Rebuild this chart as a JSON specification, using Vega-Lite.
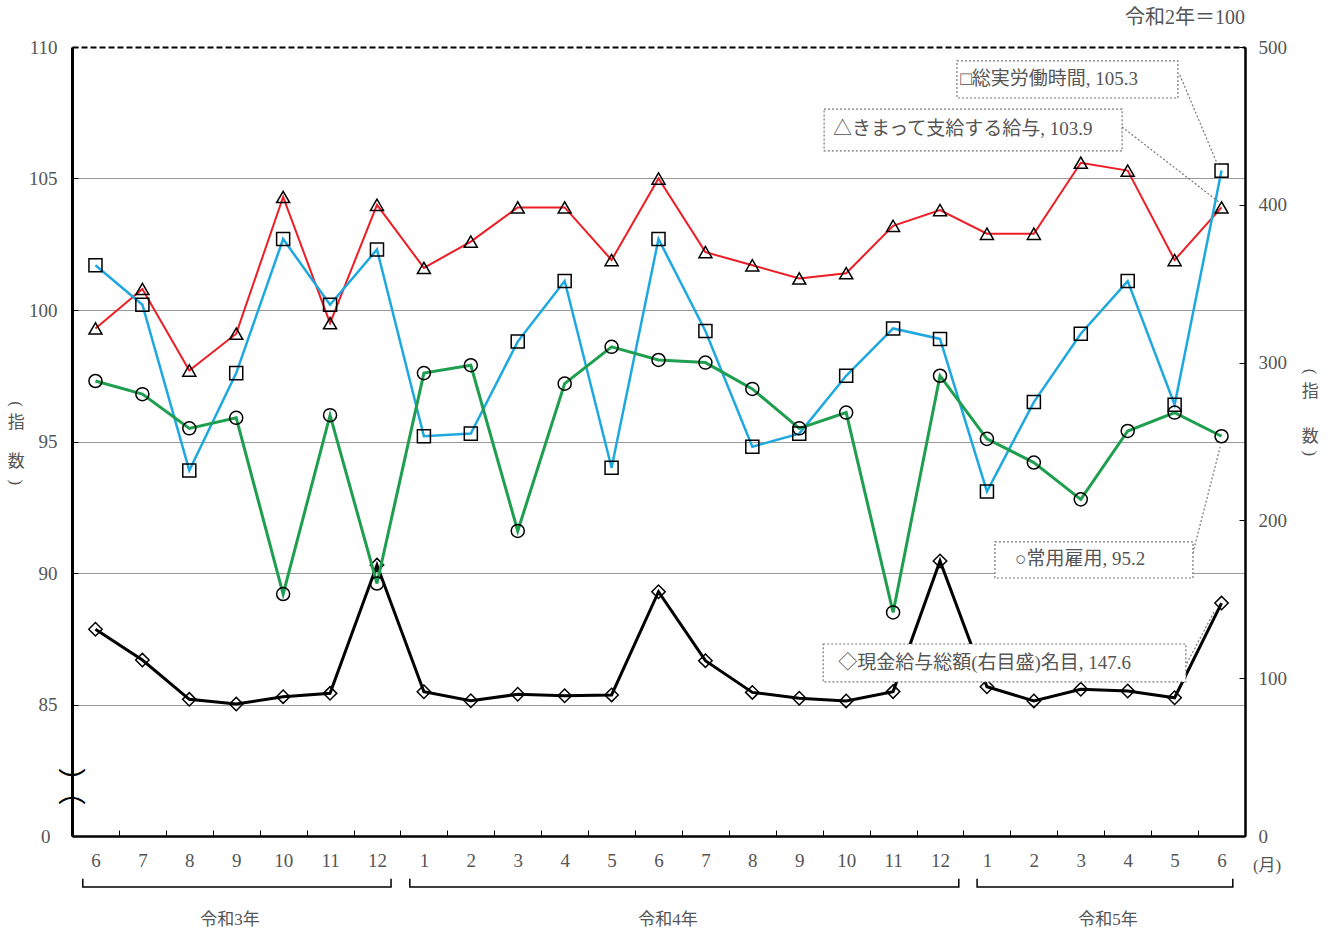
{
  "$schema": "https://vega.github.io/schema/vega-lite/v6.json",
  "width": 1173,
  "height": 789,
  "autosize": {"type": "none"},
  "padding": {"left": 72, "top": 47, "right": 87, "bottom": 96},
  "background": "white",
  "config": {
    "view": {"stroke": null},
    "axis": {"labelFont": "Liberation Serif", "labelFontSize": 19, "labelColor": "#555", "domainColor": "black", "tickColor": "black", "grid": false}
  },
  "datasets": {
    "left": [
      {"x":1,"s":"きまって支給する給与","y":99.3},{"x":2,"s":"きまって支給する給与","y":100.8},{"x":3,"s":"きまって支給する給与","y":97.7},{"x":4,"s":"きまって支給する給与","y":99.1},{"x":5,"s":"きまって支給する給与","y":104.3},{"x":6,"s":"きまって支給する給与","y":99.5},{"x":7,"s":"きまって支給する給与","y":104.0},{"x":8,"s":"きまって支給する給与","y":101.6},{"x":9,"s":"きまって支給する給与","y":102.6},{"x":10,"s":"きまって支給する給与","y":103.9},{"x":11,"s":"きまって支給する給与","y":103.9},{"x":12,"s":"きまって支給する給与","y":101.9},{"x":13,"s":"きまって支給する給与","y":105.0},{"x":14,"s":"きまって支給する給与","y":102.2},{"x":15,"s":"きまって支給する給与","y":101.7},{"x":16,"s":"きまって支給する給与","y":101.2},{"x":17,"s":"きまって支給する給与","y":101.4},{"x":18,"s":"きまって支給する給与","y":103.2},{"x":19,"s":"きまって支給する給与","y":103.8},{"x":20,"s":"きまって支給する給与","y":102.9},{"x":21,"s":"きまって支給する給与","y":102.9},{"x":22,"s":"きまって支給する給与","y":105.6},{"x":23,"s":"きまって支給する給与","y":105.3},{"x":24,"s":"きまって支給する給与","y":101.9},{"x":25,"s":"きまって支給する給与","y":103.9},
      {"x":1,"s":"総実労働時間","y":101.7},{"x":2,"s":"総実労働時間","y":100.2},{"x":3,"s":"総実労働時間","y":93.9},{"x":4,"s":"総実労働時間","y":97.6},{"x":5,"s":"総実労働時間","y":102.7},{"x":6,"s":"総実労働時間","y":100.2},{"x":7,"s":"総実労働時間","y":102.3},{"x":8,"s":"総実労働時間","y":95.2},{"x":9,"s":"総実労働時間","y":95.3},{"x":10,"s":"総実労働時間","y":98.8},{"x":11,"s":"総実労働時間","y":101.1},{"x":12,"s":"総実労働時間","y":94.0},{"x":13,"s":"総実労働時間","y":102.7},{"x":14,"s":"総実労働時間","y":99.2},{"x":15,"s":"総実労働時間","y":94.8},{"x":16,"s":"総実労働時間","y":95.3},{"x":17,"s":"総実労働時間","y":97.5},{"x":18,"s":"総実労働時間","y":99.3},{"x":19,"s":"総実労働時間","y":98.9},{"x":20,"s":"総実労働時間","y":93.1},{"x":21,"s":"総実労働時間","y":96.5},{"x":22,"s":"総実労働時間","y":99.1},{"x":23,"s":"総実労働時間","y":101.1},{"x":24,"s":"総実労働時間","y":96.4},{"x":25,"s":"総実労働時間","y":105.3},
      {"x":1,"s":"常用雇用","y":97.3},{"x":2,"s":"常用雇用","y":96.8},{"x":3,"s":"常用雇用","y":95.5},{"x":4,"s":"常用雇用","y":95.9},{"x":5,"s":"常用雇用","y":89.2},{"x":6,"s":"常用雇用","y":96.0},{"x":7,"s":"常用雇用","y":89.6},{"x":8,"s":"常用雇用","y":97.6},{"x":9,"s":"常用雇用","y":97.9},{"x":10,"s":"常用雇用","y":91.6},{"x":11,"s":"常用雇用","y":97.2},{"x":12,"s":"常用雇用","y":98.6},{"x":13,"s":"常用雇用","y":98.1},{"x":14,"s":"常用雇用","y":98.0},{"x":15,"s":"常用雇用","y":97.0},{"x":16,"s":"常用雇用","y":95.5},{"x":17,"s":"常用雇用","y":96.1},{"x":18,"s":"常用雇用","y":88.5},{"x":19,"s":"常用雇用","y":97.5},{"x":20,"s":"常用雇用","y":95.1},{"x":21,"s":"常用雇用","y":94.2},{"x":22,"s":"常用雇用","y":92.8},{"x":23,"s":"常用雇用","y":95.4},{"x":24,"s":"常用雇用","y":96.1},{"x":25,"s":"常用雇用","y":95.2}
    ],
    "right": [
      {"x":1,"v":131.0},{"x":2,"v":111.5},{"x":3,"v":86.6},{"x":4,"v":83.6},{"x":5,"v":88.3},{"x":6,"v":90.4},{"x":7,"v":171.7},{"x":8,"v":91.4},{"x":9,"v":85.7},{"x":10,"v":89.8},{"x":11,"v":88.9},{"x":12,"v":89.4},{"x":13,"v":154.8},{"x":14,"v":111.1},{"x":15,"v":91.0},{"x":16,"v":87.3},{"x":17,"v":85.6},{"x":18,"v":91.5},{"x":19,"v":174.3},{"x":20,"v":94.6},{"x":21,"v":85.6},{"x":22,"v":93.0},{"x":23,"v":91.9},{"x":24,"v":87.6},{"x":25,"v":147.6}
    ],
    "leaders": [
      {"k":1,"o":1,"x":24.11,"y":108.94},{"k":1,"o":2,"x":24.92,"y":105.51},
      {"k":2,"o":1,"x":22.88,"y":106.96},{"k":2,"o":2,"x":24.97,"y":104.07},
      {"k":3,"o":1,"x":24.39,"y":90.76},{"k":3,"o":2,"x":24.97,"y":94.79},
      {"k":4,"o":1,"x":24.22,"y":86.43},{"k":4,"o":2,"x":24.86,"y":88.59}
    ],
    "boxes": [
      {"x":19.36,"x2":24.07,"y":109.47,"y2":108.06},
      {"x":16.53,"x2":22.88,"y":107.64,"y2":106.05},
      {"x":20.17,"x2":24.39,"y":91.18,"y2":89.81},
      {"x":16.51,"x2":24.24,"y":87.30,"y2":85.86}
    ],
    "boxlabels": [
      {"x":19.43,"y":108.78,"t":"□総実労働時間, 105.3"},
      {"x":16.72,"y":106.88,"t":"△きまって支給する給与, 103.9"},
      {"x":20.60,"y":90.53,"t":"○常用雇用, 95.2"},
      {"x":16.83,"y":86.58,"t":"◇現金給与総額(右目盛)名目, 147.6"}
    ],
    "brackets": [
      {"k":1,"o":1,"x":0.73,"y":78.37},{"k":1,"o":2,"x":0.73,"y":78.06},{"k":1,"o":3,"x":7.30,"y":78.06},{"k":1,"o":4,"x":7.30,"y":78.37},
      {"k":2,"o":1,"x":7.70,"y":78.37},{"k":2,"o":2,"x":7.70,"y":78.06},{"k":2,"o":3,"x":19.40,"y":78.06},{"k":2,"o":4,"x":19.40,"y":78.37},
      {"k":3,"o":1,"x":19.79,"y":78.37},{"k":3,"o":2,"x":19.79,"y":78.06},{"k":3,"o":3,"x":25.24,"y":78.06},{"k":3,"o":4,"x":25.24,"y":78.37}
    ],
    "texts": [
      {"x":3.87,"y":76.81,"t":"令和3年"},
      {"x":13.2,"y":76.81,"t":"令和4年"},
      {"x":22.58,"y":76.81,"t":"令和5年"},
      {"x":25.97,"y":78.86,"t":"(月)"}
    ],
    "vlabels": [
      {"x":-0.69,"y":95.70,"t":"指"},
      {"x":-0.69,"y":94.22,"t":"数"},
      {"x":26.89,"y":96.88,"t":"指"},
      {"x":26.89,"y":95.17,"t":"数"}
    ],
    "parens": [
      {"x":-0.69,"y":96.42,"t":"("},
      {"x":-0.69,"y":93.45,"t":")"},
      {"x":26.89,"y":97.66,"t":"("},
      {"x":26.89,"y":94.55,"t":")"}
    ],
    "note": [
      {"x":25.5,"y":111.1,"t":"令和2年＝100"}
    ],
    "breaks": [
      {"x":0.5,"y":81.95,"t":"︶"},
      {"x":0.5,"y":81.6,"t":"︵"}
    ]
  },
  "encoding": {
    "x": {"field": "x", "type": "quantitative", "scale": {"domain": [0.5, 25.5], "nice": false, "zero": false},
      "axis": {"orient": "bottom", "values": [0.5,1,1.5,2,2.5,3,3.5,4,4.5,5,5.5,6,6.5,7,7.5,8,8.5,9,9.5,10,10.5,11,11.5,12,12.5,13,13.5,14,14.5,15,15.5,16,16.5,17,17.5,18,18.5,19,19.5,20,20.5,21,21.5,22,22.5,23,23.5,24,24.5,25,25.5],
        "labelExpr": "datum.value % 1 != 0 ? '' : '' + ((datum.value + 4) % 12 + 1)",
        "tickOpacity": {"condition": {"test": "datum.value % 1 == 0", "value": 0}, "value": 1},
        "tickSize": -6, "labelOverlap": false, "labelFlush": false, "labelPadding": 21, "domainWidth": 2.5, "title": null}}
  },
  "layer": [
    {
      "data": {"name": "right"},
      "encoding": {
        "y": {"field": "v", "type": "quantitative", "scale": {"domain": [0, 500], "nice": false, "zero": false},
          "axis": {"orient": "right", "values": [0,100,200,300,400,500], "tickSize": -6, "labelPadding": 19, "domainWidth": 2.5, "title": null}}
      },
      "layer": [
        {"mark": {"type": "line", "color": "black", "strokeWidth": 3}},
        {"mark": {"type": "point", "shape": "diamond", "size": 180, "filled": false, "stroke": "black", "strokeWidth": 1.5, "opacity": 1}}
      ]
    },
    {
      "encoding": {
        "y": {"field": "y", "type": "quantitative", "scale": {"domain": [80, 110], "nice": false, "zero": false},
          "axis": {"orient": "left", "values": [80,85,90,95,100,105,110],
            "labelExpr": "datum.value == 80 ? '0' : datum.label",
            "tickSize": -6,
            "labelPadding": {"condition": {"test": "datum.value == 80", "value": 28}, "value": 21},
            "domainWidth": 3, "grid": true,
            "gridColor": {"condition": {"test": "datum.value == 110", "value": "black"}, "value": "#9a9a9a"},
            "gridDash": {"condition": {"test": "datum.value == 110", "value": [6, 3]}, "value": []},
            "gridWidth": {"condition": {"test": "datum.value == 110", "value": 2}, "value": 1},
            "gridOpacity": {"condition": {"test": "datum.value == 80", "value": 0}, "value": 1},
            "title": null}}
      },
      "layer": [
        {
          "data": {"name": "left"},
          "mark": {"type": "line"},
          "encoding": {
            "color": {"field": "s", "type": "nominal", "scale": {"domain": ["きまって支給する給与","総実労働時間","常用雇用"], "range": ["#ee1c24","#1ea8e0","#1f9e4f"]}, "legend": null},
            "strokeWidth": {"field": "s", "type": "nominal", "scale": {"domain": ["きまって支給する給与","総実労働時間","常用雇用"], "range": [2, 3, 2]}, "legend": null}
          }
        },
        {
          "data": {"name": "left"},
          "mark": {"type": "point", "filled": false, "stroke": "black", "strokeWidth": 1.5, "opacity": 1, "size": 170},
          "encoding": {
            "shape": {"field": "s", "type": "nominal", "scale": {"domain": ["きまって支給する給与","総実労働時間","常用雇用"], "range": ["triangle-up","square","circle"]}, "legend": null}
          }
        },
        {
          "data": {"name": "leaders"},
          "mark": {"type": "line", "color": "#777", "strokeWidth": 1.2, "strokeDash": [2, 2]},
          "encoding": {
            "detail": {"field": "k", "type": "nominal"},
            "order": {"field": "o", "type": "quantitative"}
          }
        },
        {
          "data": {"name": "boxes"},
          "mark": {"type": "rect", "fill": "white", "stroke": "#777", "strokeWidth": 1.2, "strokeDash": [2, 2]},
          "encoding": {
            "x2": {"field": "x2"},
            "y2": {"field": "y2"}
          }
        },
        {
          "data": {"name": "boxlabels"},
          "mark": {"type": "text", "align": "left", "baseline": "middle", "font": "Liberation Serif, Noto Sans CJK JP", "fontSize": 19, "color": "#555"},
          "encoding": {"text": {"field": "t"}}
        },
        {
          "data": {"name": "brackets"},
          "mark": {"type": "line", "color": "black", "strokeWidth": 1.5},
          "encoding": {
            "detail": {"field": "k", "type": "nominal"},
            "order": {"field": "o", "type": "quantitative"}
          }
        },
        {
          "data": {"name": "texts"},
          "mark": {"type": "text", "align": "center", "baseline": "middle", "font": "Liberation Serif, Noto Sans CJK JP", "fontSize": 17, "color": "#555"},
          "encoding": {"text": {"field": "t"}}
        },
        {
          "data": {"name": "vlabels"},
          "mark": {"type": "text", "align": "center", "baseline": "middle", "font": "Noto Sans CJK JP", "fontSize": 17, "color": "#555"},
          "encoding": {"text": {"field": "t"}}
        },
        {
          "data": {"name": "parens"},
          "mark": {"type": "text", "align": "center", "baseline": "middle", "angle": 90, "font": "Liberation Serif", "fontSize": 17, "color": "#555"},
          "encoding": {"text": {"field": "t"}}
        },
        {
          "data": {"name": "note"},
          "mark": {"type": "text", "align": "right", "baseline": "middle", "font": "Liberation Serif, Noto Sans CJK JP", "fontSize": 20, "color": "#555"},
          "encoding": {"text": {"field": "t"}}
        },
        {
          "data": {"name": "breaks"},
          "mark": {"type": "text", "baseline": "middle", "align": "center", "font": "Noto Sans CJK JP", "fontSize": 28, "color": "black"},
          "encoding": {"text": {"field": "t"}}
        }
      ]
    }
  ],
  "resolve": {"scale": {"y": "independent"}, "axis": {"y": "independent"}}
}
